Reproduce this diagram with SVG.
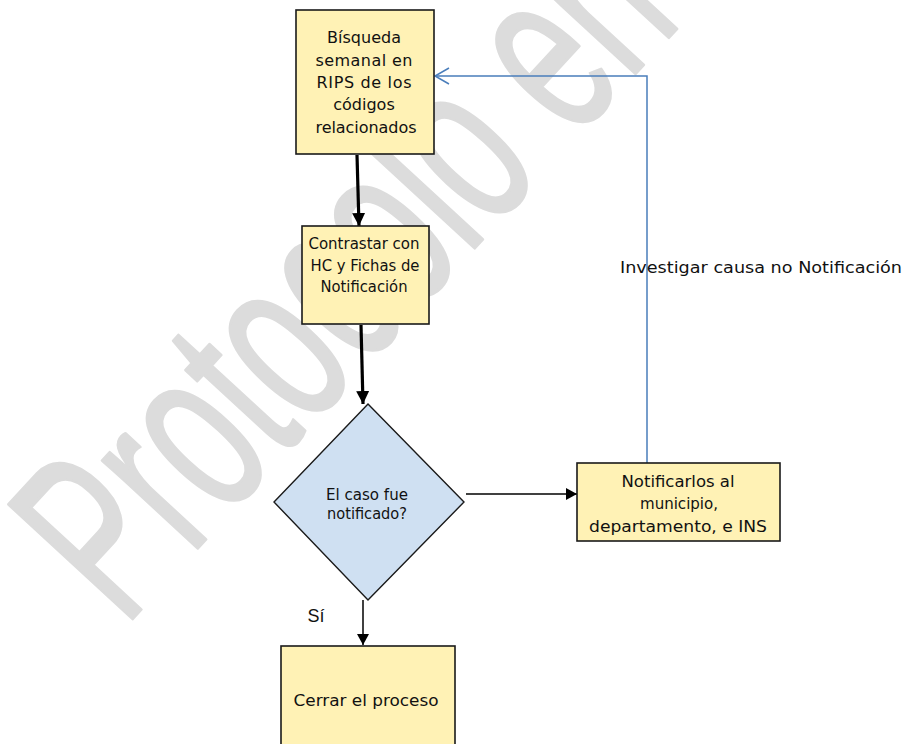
<svg xmlns="http://www.w3.org/2000/svg" width="908" height="744" viewBox="0 0 908 744">
  <style>
    .box { fill: #fff2b5; stroke: #1a1a1a; stroke-width: 1.6; }
    .dia { fill: #cfe0f2; stroke: #1a1a1a; stroke-width: 1.4; }
    .t { font-family: "DejaVu Sans", Verdana, sans-serif; font-size: 16px; fill: #111; text-anchor: middle; }
    .thick { stroke: #000; stroke-width: 3.2; fill: none; }
    .thin { stroke: #000; stroke-width: 1.5; fill: none; }
    .blue { stroke: #4a7ebb; stroke-width: 1.5; fill: none; }
    .wm { font-family: "Liberation Sans", Arial, sans-serif; font-size: 245px; fill: #dcdcdc; stroke: #dcdcdc; stroke-width: 3; stroke-linejoin: round; }
  </style>
  <defs>
    <marker id="ahBig" markerUnits="userSpaceOnUse" markerWidth="14" markerHeight="14" refX="13" refY="6.5" orient="auto">
      <path d="M0,0 L13,6.5 L0,13 Z" fill="#000"/>
    </marker>
    <marker id="ahSmall" markerUnits="userSpaceOnUse" markerWidth="12" markerHeight="12" refX="11" refY="6" orient="auto">
      <path d="M0,0 L11,6 L0,12 Z" fill="#000"/>
    </marker>
    <marker id="ahOpen" markerUnits="userSpaceOnUse" markerWidth="18" markerHeight="20" refX="15" refY="9" orient="auto">
      <path d="M1,1 L15,9 L1,17" fill="none" stroke="#4a7ebb" stroke-width="1.5"/>
    </marker>
  </defs>

  <rect x="0" y="0" width="908" height="744" fill="#ffffff"/>

  <g id="watermark">
    <text class="wm" transform="translate(124,628) rotate(-47.3) scale(0.6,1)">Protocolo en</text>
  </g>

  <g id="connectors">
    <line class="thick" x1="357" y1="155" x2="359" y2="226" marker-end="url(#ahBig)"/>
    <line class="thick" x1="361" y1="325" x2="363" y2="404" marker-end="url(#ahBig)"/>
    <line class="thin" x1="466" y1="494" x2="577" y2="494" marker-end="url(#ahSmall)"/>
    <line class="thin" x1="363" y1="600" x2="363" y2="645" marker-end="url(#ahSmall)"/>
    <polyline class="blue" points="647,463 647,76 435,76" marker-end="url(#ahOpen)"/>
    <text class="t" x="761" y="273" font-size="17.5" textLength="282" lengthAdjust="spacingAndGlyphs">Investigar causa no Notificación</text>
    <text x="316" y="622" font-family="'Liberation Sans', Arial, sans-serif" font-size="18" fill="#111" text-anchor="middle">Sí</text>
  </g>

  <g id="n1">
    <rect class="box" x="296" y="10" width="138" height="144"/>
    <text class="t" x="364" y="43" textLength="74">Bísqueda</text>
    <text class="t" x="364" y="66" textLength="97">semanal en</text>
    <text class="t" x="364" y="88" textLength="95">RIPS de los</text>
    <text class="t" x="364" y="110">códigos</text>
    <text class="t" x="366" y="133" textLength="101">relacionados</text>
  </g>

  <g id="n2">
    <rect class="box" x="302" y="226" width="127" height="98"/>
    <text class="t" x="364" y="249" textLength="111" lengthAdjust="spacingAndGlyphs">Contrastar con</text>
    <text class="t" x="365" y="271" textLength="109" lengthAdjust="spacingAndGlyphs">HC y Fichas de</text>
    <text class="t" x="364" y="292" textLength="87" lengthAdjust="spacingAndGlyphs">Notificación</text>
  </g>

  <g id="n3">
    <polygon class="dia" points="368,404 464,502 368,600 274,502"/>
    <text class="t" x="367" y="500" font-size="15" textLength="82" lengthAdjust="spacingAndGlyphs">El caso fue</text>
    <text class="t" x="367" y="519" font-size="15" textLength="80" lengthAdjust="spacingAndGlyphs">notificado?</text>
  </g>

  <g id="n4">
    <rect class="box" x="577" y="463" width="203" height="78"/>
    <text class="t" x="678" y="487" font-size="17" textLength="113" lengthAdjust="spacingAndGlyphs">Notificarlos al</text>
    <text class="t" x="679" y="509" font-size="17" textLength="78" lengthAdjust="spacingAndGlyphs">municipio,</text>
    <text class="t" x="678" y="532" font-size="17" textLength="178" lengthAdjust="spacingAndGlyphs">departamento, e INS</text>
  </g>

  <g id="n5">
    <rect class="box" x="281" y="646" width="174" height="110"/>
    <text class="t" x="366" y="706" textLength="145" lengthAdjust="spacingAndGlyphs">Cerrar el proceso</text>
  </g>
</svg>
